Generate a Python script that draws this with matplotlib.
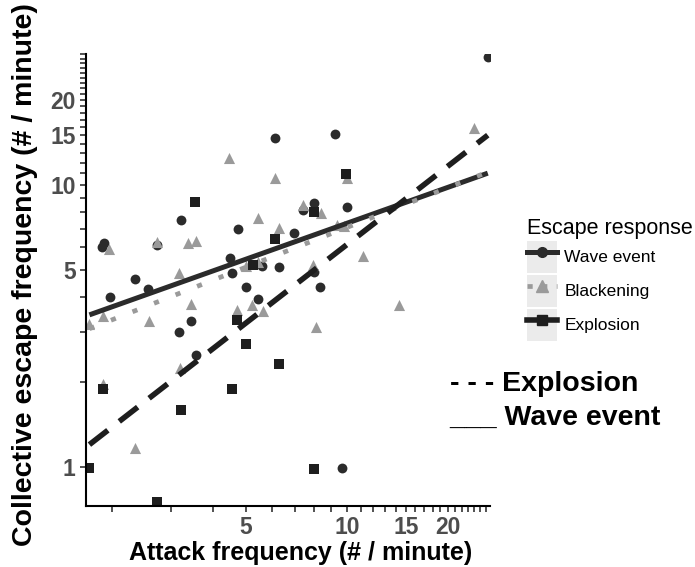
import matplotlib
matplotlib.use('Agg')
import matplotlib.pyplot as plt
from matplotlib.lines import Line2D
from matplotlib.patches import Patch
from matplotlib.legend_handler import HandlerTuple
from matplotlib.ticker import NullLocator
import numpy as np

plt.rcParams['font.family'] = ['Liberation Sans', 'DejaVu Sans']

# attack frequency / escape frequency (# / minute)
wave_x = [1.87, 1.89, 2.72, 3.21, 6.09, 9.20, 7.38, 7.96, 9.99, 4.75, 6.94, 4.50, 4.56,
          5.57, 6.26, 7.96, 8.30, 4.99, 5.42, 2.33, 2.56, 1.97, 3.44, 3.17, 3.56, 9.65, 26.3]
wave_y = [6.03, 6.23, 6.13, 7.51, 14.6, 15.2, 8.15, 8.64, 8.36, 6.98, 6.76, 5.51, 4.87,
          5.16, 5.12, 4.91, 4.35, 4.35, 3.94, 4.64, 4.28, 4.01, 3.29, 3.01, 2.50, 0.99, 28.4]

black_x = [1.95, 2.72, 3.37, 3.56, 4.47, 6.09, 7.38, 8.36, 5.42, 6.26, 9.33, 9.79, 9.99, 23.9,
           3.17, 3.44, 1.88, 2.58, 1.71, 3.19, 1.88, 2.34, 5.02, 5.42, 7.91, 4.72, 5.20, 5.61,
           8.07, 11.2, 14.3]
black_y = [5.93, 6.28, 6.23, 6.33, 12.5, 10.6, 8.49, 7.96, 7.64, 7.04, 7.21, 7.16, 10.6, 15.9,
           4.87, 3.78, 3.43, 3.29, 3.21, 2.24, 1.97, 1.17, 5.16, 5.33, 5.20, 3.60, 3.75, 3.57,
           3.14, 5.60, 3.75]

expl_x = [3.54, 9.92, 7.96, 6.09, 5.24, 4.72, 4.99, 6.26, 1.88, 3.21, 4.56, 1.71, 2.72, 7.96]
expl_y = [8.70, 10.9, 8.02, 6.44, 5.20, 3.32, 2.73, 2.32, 1.89, 1.59, 1.89, 0.99, 0.75, 0.98]

# fitted lines (log-log lm), ends
fit_x = [1.71, 26.3]
wave_fit = [3.46, 11.0]
black_fit = [3.09, 11.1]
expl_fit = [1.20, 15.0]

x_ticks = list(range(2, 27))
y_ticks = list(range(1, 30))
shown = [1, 5, 10, 15, 20]

c_wave = '#2b2b2b'
c_black = '#9a9a9a'
c_expl = '#1e1e1e'

fig = plt.figure(figsize=(6.95, 5.67), dpi=100)
ax = fig.add_axes([0.1237, 0.1076, 0.5813, 0.7972])
ax.set_xscale('log')
ax.set_yscale('log')

ax.scatter(wave_x, wave_y, marker='o', s=50, color=c_wave, linewidths=0, zorder=2)
ax.scatter(black_x, black_y, marker='^', s=64, color=c_black, linewidths=0, zorder=2)
ax.scatter(expl_x, expl_y, marker='s', s=42, color=c_expl, linewidths=0, zorder=2)

ax.plot(fit_x, wave_fit, color=c_wave, lw=3.6, solid_capstyle='butt', zorder=3)
ax.plot(fit_x, black_fit, color=c_black, lw=3.4, linestyle=(0, (1.1, 3.8)),
        dash_capstyle='butt', zorder=3)
ax.plot(fit_x, expl_fit, color=c_expl, lw=4.0, linestyle=(0, (4.2, 2.6)),
        dash_capstyle='butt', zorder=3)

ax.set_xlim(1.67, 26.7)
ax.set_ylim(0.727, 29.1)
ax.set_xticks(x_ticks, [str(t) if t in shown else '' for t in x_ticks])
ax.set_yticks(y_ticks, [str(t) if t in shown else '' for t in y_ticks])
ax.xaxis.set_minor_locator(NullLocator())
ax.yaxis.set_minor_locator(NullLocator())
ax.tick_params(direction='out', length=4.5, width=1.1, color='#222222',
               labelsize=16.5, labelcolor='#4d4d4d', pad=3)
for lab in ax.get_xticklabels() + ax.get_yticklabels():
    lab.set_fontweight('bold')

for s in ['top', 'right']:
    ax.spines[s].set_visible(False)
for s in ['left', 'bottom']:
    ax.spines[s].set_linewidth(1.5)
    ax.spines[s].set_color('black')

ax.set_xlabel('Attack frequency (# / minute)', fontsize=18, fontweight='bold')
ax.xaxis.set_label_coords(0.532, -0.077)
ax.set_ylabel('Collective escape frequency (# / minute)', fontsize=20.5, fontweight='bold')
ax.yaxis.set_label_coords(-0.118, 0.511)

key = dict(facecolor='#ebebeb', edgecolor='none')
handles = [
    (Patch(**key), Line2D([], [], color=c_wave, lw=3.6, marker='o', markersize=7)),
    (Patch(**key), Line2D([], [], color=c_black, lw=3.4, linestyle=(0, (1.1, 2.0)),
                          marker='^', markersize=8)),
    (Patch(**key), Line2D([], [], color=c_expl, lw=4.0, marker='s', markersize=6.5)),
]
leg = fig.legend(handles, ['Wave event', 'Blackening', 'Explosion'],
                 handler_map={tuple: HandlerTuple(ndivide=1, pad=0)},
                 title='Escape response', loc='upper left',
                 bbox_to_anchor=(0.748, 0.628), frameon=False, fontsize=12.5,
                 title_fontsize=15.5, handlelength=1.75, handleheight=2.45,
                 labelspacing=0.12, handletextpad=0.4, borderaxespad=0)
leg._legend_box.align = 'left'

fig.text(0.647, 0.322, '- - - Explosion', fontsize=20.5, fontweight='bold', va='center')
fig.text(0.647, 0.263, '___ Wave event', fontsize=20.5, fontweight='bold', va='center')

fig.savefig('out.png', dpi=100)
